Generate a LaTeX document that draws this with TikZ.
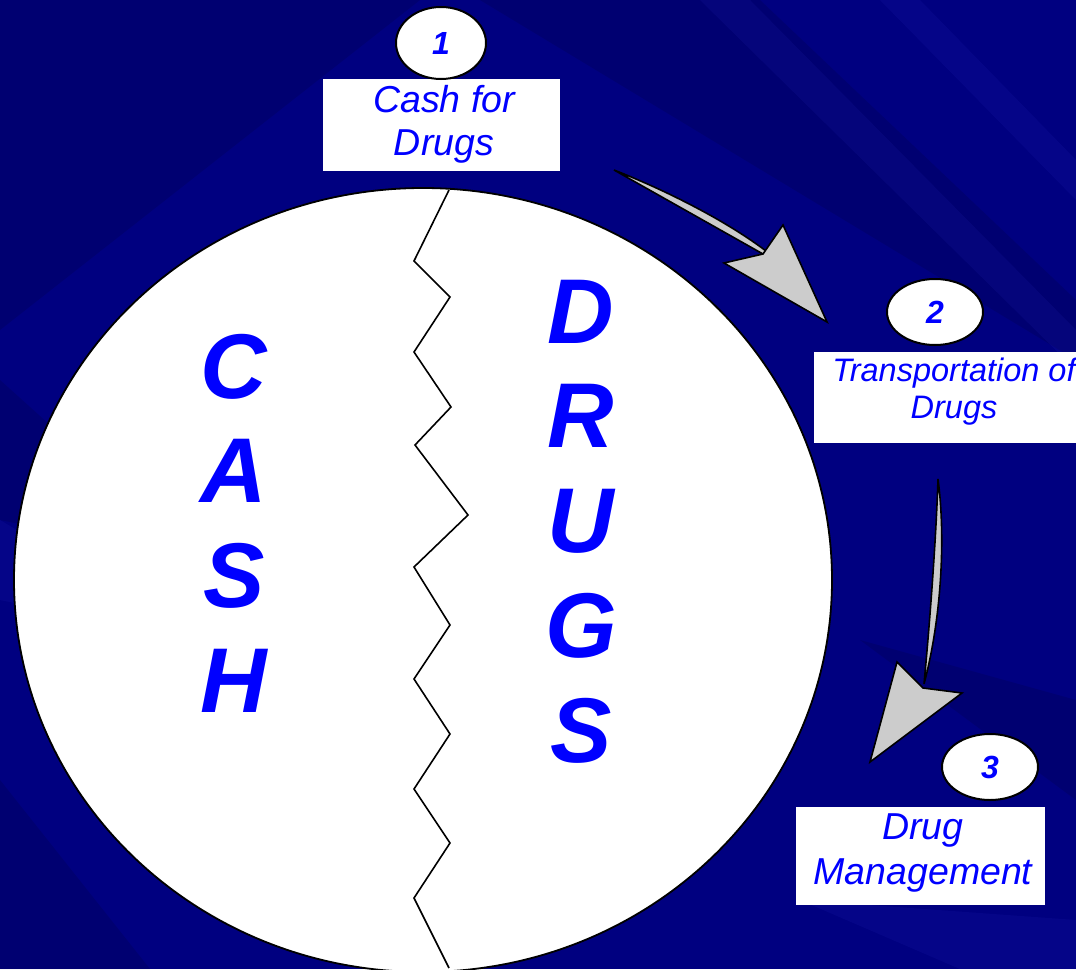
\documentclass[tikz,border=0pt]{standalone}
\usepackage{fontspec}
\setmainfont{Liberation Sans}
\usetikzlibrary{shapes.geometric}
\definecolor{bgnavy}{RGB}{0,0,128}
\definecolor{bgdark}{RGB}{0,0,80}
\definecolor{bglight}{RGB}{40,40,190}
\definecolor{txtblue}{RGB}{0,0,255}
\definecolor{arrowgray}{RGB}{204,204,204}
\tikzset{
  disc/.style={ellipse, draw, fill=white, line width=1.8pt, inner sep=0pt},
  numoval/.style={ellipse, draw, fill=white, line width=2pt, inner sep=0pt,
    text=txtblue, font=\fontsize{32}{32}\selectfont\bfseries\itshape},
  labelbox/.style={rectangle, fill=white, inner sep=0pt},
  labeltext/.style={align=center, text=txtblue, inner sep=0pt},
  bigletter/.style={text=txtblue, anchor=base, inner sep=0pt,
    font=\fontsize{92}{92}\selectfont\bfseries\itshape},
  crack/.style={draw=black, line width=1.6pt, line join=miter},
  arrowpart/.style={fill=arrowgray, draw=black, line width=1.6pt, line join=miter},
  darkband/.style={fill=bgdark, opacity=0.3},
  lightband/.style={fill=bglight, opacity=0.14}
}
\begin{document}
\begin{tikzpicture}[x=1pt,y=-1pt]
\useasboundingbox (0,0) rectangle (1076,969);
% background
\fill[bgnavy] (0,0) rectangle (1076,969);
\fill[darkband] (0,0) -- (420,0) -- (0,330) -- cycle;
\fill[darkband] (480,0) -- (760,0) -- (1076,300) -- (1076,360) -- cycle;
\fill[darkband] (0,380) -- (0,520) -- (200,560) -- cycle;
\fill[darkband] (860,640) -- (1076,700) -- (1076,800) -- cycle;
\fill[lightband] (700,0) -- (750,0) -- (1076,330) -- (1076,370) -- cycle;
\fill[lightband] (880,0) -- (920,0) -- (1076,160) -- (1076,200) -- cycle;
\fill[lightband] (0,520) -- (0,600) -- (200,640) -- cycle;
\fill[lightband] (800,900) -- (1076,920) -- (1076,969) -- (960,969) -- cycle;
\fill[darkband] (0,780) -- (0,969) -- (150,969) -- cycle;

% main disc
\node[disc, minimum width=818pt, minimum height=784pt] (disc) at (423,580) {};

% crack line
\draw[crack] (449,190) -- (414,261) -- (450,297) -- (414,352) -- (451,407)
  -- (415,445) -- (468,515) -- (414,567) -- (450,625) -- (414,679)
  -- (450,734) -- (414,789) -- (450,843) -- (414,898) -- (449,968);

% big letters
\foreach \l [count=\i] in {C,A,S,H}
  \node[bigletter] (cash\i) at (234,{398+104.7*(\i-1)}) {\l};
\foreach \l [count=\i] in {D,R,U,G,S}
  \node[bigletter] (drugs\i) at (581,{343+104.8*(\i-1)}) {\l};

% step 1
\node[labelbox, minimum width=237pt, minimum height=92pt] (box1) at (441.5,125) {};
\node[labeltext, font=\fontsize{37.5}{43}\selectfont\itshape] (txt1) at (444,124) {Cash for\\Drugs};
\node[numoval, minimum width=90pt, minimum height=72pt] (num1) at (441,43) {1};

% step 2
\node[labelbox, minimum width=278pt, minimum height=91pt] (box2) at (953,397.5) {};
\node[labeltext, font=\fontsize{32.5}{37}\selectfont\itshape] (txt2) at (954,391.5) {Transportation of\\Drugs};
\node[numoval, minimum width=96pt, minimum height=66pt] (num2) at (935,312) {2};

% step 3
\node[labelbox, minimum width=249pt, minimum height=98pt] (box3) at (920.5,856) {};
\node[labeltext, font=\fontsize{37.5}{45}\selectfont\itshape] (txt3) at (923,853) {Drug\\Management};
\node[numoval, minimum width=96pt, minimum height=66pt] (num3) at (990,767) {3};

% arrow 1 (box1 -> step 2)
\coordinate (a1tail) at (614,170);
\coordinate (a1neck) at (763,254);
\draw[arrowpart] (a1tail) .. controls (665,190) and (725,220) .. (766,251)
  -- (a1neck) -- cycle;
\draw[arrowpart] (a1neck) -- (783,225) -- (827,322) -- (724,263) -- cycle;

% arrow 2 (step 2 -> step 3)
\coordinate (a2tail) at (938,479);
\coordinate (a2neck) at (923,688);
\draw[arrowpart] (a2tail) .. controls (946,540) and (941,620) .. (924,684)
  .. controls (930,620) and (936,540) .. (a2tail) -- cycle;
\draw[arrowpart] (a2neck) -- (962,693) -- (870,762) -- (897,662) -- cycle;
\end{tikzpicture}
\end{document}
